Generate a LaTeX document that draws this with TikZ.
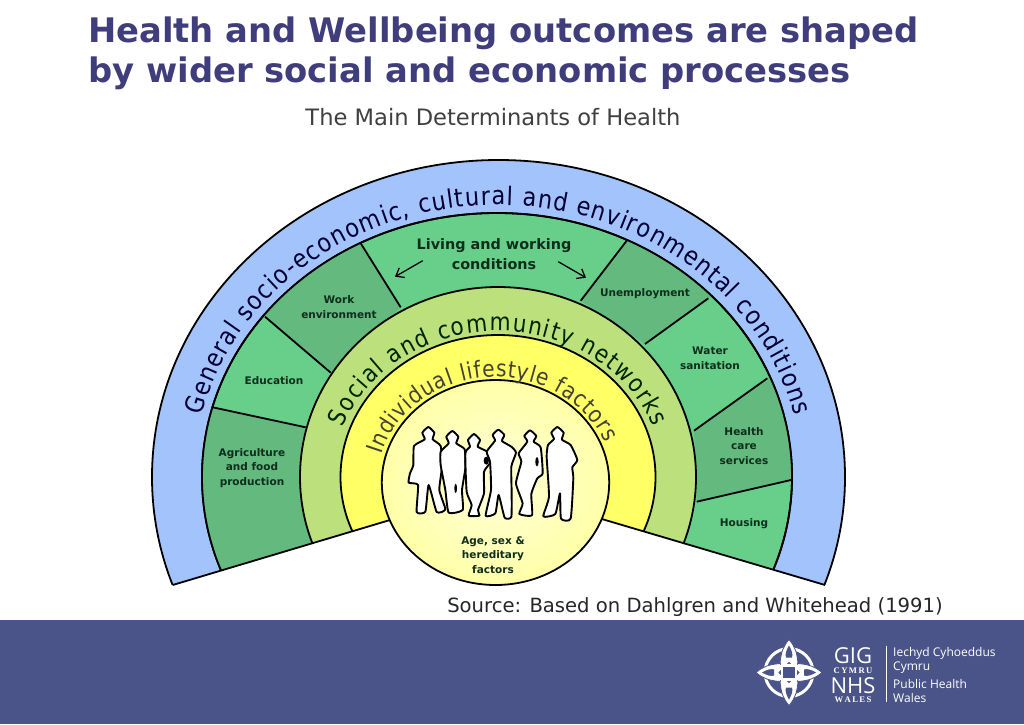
\documentclass[tikz,border=0pt]{standalone}
\usepackage{fontspec}
\setmainfont{DejaVu Sans}
\newfontfamily\logofont{Open Sans}
\newfontfamily\logoserif{Liberation Serif}
\newfontfamily\ringfont[FakeStretch=0.88]{DejaVu Sans}
\usetikzlibrary{decorations.text,arrows.meta,calc,shadings}
\definecolor{titlecol}{HTML}{3F3D7C}
\definecolor{bandcol}{HTML}{4A5488}
\definecolor{bluering}{HTML}{A3C3FC}
\definecolor{greenlight}{HTML}{68CF8B}
\definecolor{greendark}{HTML}{64B97F}
\definecolor{limering}{HTML}{BCE17C}
\definecolor{yellowring}{HTML}{FFFF66}
\definecolor{labelcol}{HTML}{0E2E1C}
\definecolor{discin}{HTML}{FFFFD8}
\definecolor{discout}{HTML}{FFFFA8}
\newcommand{\lblfont}{\fontsize{10.5}{14.6}\selectfont\bfseries\color{labelcol}}
\newcommand{\ringa}{\ringfont\fontsize{25.5}{26}\selectfont\color{black!80!blue}}
\newcommand{\ringb}{\ringfont\fontsize{24.5}{26}\selectfont\color{black!85!green}}
\newcommand{\ringc}{\ringfont\fontsize{23}{26}\selectfont\color{black!85!yellow}}
\tikzset{
  edge/.style={draw=black,line width=1.8pt},
  seglabel/.style={font=\lblfont,align=center,inner sep=0pt},
  titleline/.style={font=\fontsize{33.8}{36}\selectfont\bfseries\color{titlecol},anchor=base west,inner sep=0pt},
  person/.style={draw=black,line width=1.9pt,fill=white,line join=round},
  logotext/.style={font=\logofont\fontsize{12}{14}\selectfont\color{white},anchor=base west,inner sep=0pt},
  logobig/.style={font=\logofont\fontsize{22}{22}\selectfont\color{white},anchor=base,inner sep=0pt},
  logosmall/.style={font=\logoserif\fontsize{8.6}{9}\selectfont\bfseries\color{white},anchor=base,inner sep=0pt},
  barb/.style={line width=1.3pt,-{Straight Barb[length=7pt,width=11pt]}},
}
\begin{document}
\begin{tikzpicture}[x=1pt,y=1pt]
\useasboundingbox (0,-724) rectangle (1024,0);
\fill[white] (0,-724) rectangle (1024,0);
\fill[bandcol] (0,-724) rectangle (1024,-620);

\node[titleline] (title1) at (88,-42) {Health and Wellbeing outcomes are shaped};
\node[titleline] (title2) at (88,-82) {by wider social and economic processes};
\node[font=\fontsize{22.6}{24}\selectfont\color{black!75},anchor=base,inner sep=0pt] (maintitle) at (493,-125) {The Main Determinants of Health};
\node[font=\fontsize{19.6}{22}\selectfont\color{black!85},anchor=base,inner sep=0pt] (source) at (695,-612) {Source: Based on Dahlgren and Whitehead (1991)};

% divider end points
\coordinate (d1o) at (212.7,-407.3); \coordinate (d1i) at (305.7,-427.3);
\coordinate (d2o) at (265,-316.7);   \coordinate (d2i) at (330.7,-372.7);
\coordinate (d3o) at (360.7,-243.3); \coordinate (d3i) at (400.7,-307.3);
\coordinate (d4o) at (626.7,-240.7); \coordinate (d4i) at (580.7,-300.7);
\coordinate (d5o) at (708.3,-298.3); \coordinate (d5i) at (645,-344);
\coordinate (d6o) at (767.3,-378.3); \coordinate (d6i) at (694,-430.7);
\coordinate (d7o) at (791,-480);     \coordinate (d7i) at (696.7,-501.7);
\coordinate (apex) at (497,-488);
\coordinate (wl) at (172.7,-585);
\coordinate (wr) at (825,-585);

\begin{scope}
  \clip (apex) -- (100,-606.7) -- (100,-100) -- (900,-100) -- (900,-607) -- cycle;
  \path[fill=bluering,edge] (498.5,-477) ellipse [x radius=346.5pt,y radius=317pt];
  \path[fill=greenlight,edge] (497,-477) ellipse [x radius=295pt,y radius=264pt];
  \begin{scope}
    \clip (497,-477) ellipse [x radius=295pt,y radius=264pt];
    \fill[greendark] ($(d1i)!1.3!(d1o)$) -- (d1i) -- (apex) -- (100,-620) -- cycle;
    \fill[greendark] ($(d2i)!1.4!(d2o)$) -- (d2i) -- (d3i) -- ($(d3i)!1.4!(d3o)$) -- cycle;
    \fill[greendark] ($(d4i)!1.4!(d4o)$) -- (d4i) -- (d5i) -- ($(d5i)!1.4!(d5o)$) -- cycle;
    \fill[greendark] ($(d6i)!1.4!(d6o)$) -- (d6i) -- (d7i) -- ($(d7i)!1.4!(d7o)$) -- cycle;
  \end{scope}
  \draw[edge] (497,-477) ellipse [x radius=295pt,y radius=264pt];
  \draw[edge] (d1o) -- (d1i);
  \draw[edge] (d2o) -- (d2i);
  \draw[edge] (d3o) -- (d3i);
  \draw[edge] (d4o) -- (d4i);
  \draw[edge] (d5o) -- (d5i);
  \draw[edge] (d6o) -- (d6i);
  \draw[edge] (d7o) -- (d7i);
  \path[fill=limering,edge] (498,-477) ellipse [x radius=198pt,y radius=190pt];
  \path[fill=yellowring,edge] (498,-477) ellipse [x radius=157.5pt,y radius=142pt];
\end{scope}
\draw[edge] (wl) -- (apex) -- (wr);

% centre disc
\path[edge,inner color=discin,outer color=discout] (495.5,-482.5) ellipse [x radius=113.7pt,y radius=102.5pt];

% curved texts
\path[decorate,decoration={text along path,text align={fit to path},
  text={|\ringa|General socio-economic, cultural and environmental conditions}}]
  (498,-477) ++(167:304pt and 272pt) arc [start angle=167,end angle=13,x radius=304pt,y radius=272pt];
\path[decorate,decoration={text along path,text align={fit to path},
  text={|\ringb|Social and community networks}}]
  (498,-477) ++(160:165pt and 146pt) arc [start angle=160,end angle=20,x radius=165pt,y radius=146pt];
\path[decorate,decoration={text along path,text align={fit to path},
  text={|\ringc|Individual lifestyle factors}}]
  (495.5,-482) ++(165:118pt and 105pt) arc [start angle=165,end angle=22,x radius=118pt,y radius=105pt];

% segment labels
\node[seglabel] (agri) at (252,-468) {Agriculture\\and food\\production};
\node[seglabel] (educ) at (274,-381) {Education};
\node[seglabel] (work) at (339,-307) {Work\\environment};
\node[seglabel,font=\fontsize{14.4}{19.5}\selectfont\bfseries\color{labelcol}] (living) at (494,-254) {Living and working\\conditions};
\node[seglabel] (unemp) at (645,-294) {Unemployment};
\node[seglabel] (water) at (710,-358) {Water\\sanitation};
\node[seglabel] (hcare) at (744,-446) {Health\\care\\services};
\node[seglabel] (housing) at (744,-524) {Housing};
\node[seglabel] (age) at (493,-555) {Age, sex \&\\hereditary\\factors};

\coordinate (al1) at (422.7,-260.7); \coordinate (al2) at (395,-276.7);
\coordinate (ar1) at (558.3,-261.7); \coordinate (ar2) at (586,-277.7);
\draw[barb] (al1) -- (al2);
\draw[barb] (ar1) -- (ar2);

% people
\begin{scope}[shift={(390,-390)},x=0.3333pt,y=-0.3333pt]
  \draw[person] plot[smooth cycle,tension=.3] coordinates {(104,148)(97,128)(115,111)(133,128)(128,148)(152,168)(156,230)(148,300)(166,358)(140,366)(116,285)(106,365)(80,366)(84,285)(56,278)(60,250)(70,225)(72,168)};
  \draw[person] plot[smooth cycle,tension=.3] coordinates {(176,160)(169,140)(187,123)(205,140)(199,160)(224,178)(226,235)(216,300)(218,360)(176,368)(166,300)(152,225)(152,185)};
  \draw[person] plot[smooth cycle,tension=.3] coordinates {(240,170)(234,150)(252,132)(270,150)(263,170)(294,186)(305,212)(282,245)(282,310)(264,360)(268,377)(236,377)(245,345)(230,305)(226,190)};
  \draw[person] plot[smooth cycle,tension=.3] coordinates {(315,152)(308,135)(325,119)(343,135)(336,153)(364,170)(378,188)(364,230)(365,310)(364,381)(344,383)(326,315)(316,370)(287,377)(303,300)(300,215)(290,185)};
  \draw[person] plot[smooth cycle,tension=.3] coordinates {(412,155)(403,138)(420,121)(439,138)(431,155)(452,172)(458,250)(442,265)(424,312)(426,376)(388,372)(398,340)(378,280)(394,215)(386,190)};
  \draw[person] plot[smooth cycle,tension=.3] coordinates {(492,147)(484,128)(502,111)(521,128)(516,149)(542,165)(562,210)(547,232)(550,265)(542,386)(513,386)(510,310)(496,372)(460,379)(477,320)(470,200)(474,165)};
  \fill[black] (289,212) ellipse [x radius=8,y radius=12];
  \fill[black] (441,215) ellipse [x radius=5,y radius=14];
  \fill[black] (197,295) ellipse [x radius=4,y radius=14];
\end{scope}

% logo
\begin{scope}[shift={(789,-672.5)}]
  \draw[white,line width=3pt] (0,0) circle [radius=24pt];
  \foreach \a in {0,90,180,270}{
    \begin{scope}[rotate=\a]
      \path[fill=white,draw=bandcol,line width=.8pt] (-9,9) .. controls (-8,20) and (-6,26) .. (0,33) .. controls (6,26) and (8,20) .. (9,9) -- (5,5) -- (0,10) -- (-5,5) -- cycle;
      \path[fill=bandcol] (0,27) .. controls (-3,22) and (-4,18) .. (-3,15) -- (3,15) .. controls (4,18) and (3,22) .. (0,27) -- cycle;
    \end{scope}
  }
  \draw[white,line width=2.4pt] (-7,-7) rectangle (7,7);
\end{scope}
\node[logobig] (gig) at (853,-663) {GIG};
\node[logosmall] (cymru) at (853,-673) {C\,Y\,M\,R\,U};
\node[logobig] (nhs) at (853,-693) {NHS};
\node[logosmall] (wales) at (853,-702.5) {W\,A\,L\,E\,S};
\coordinate (vt) at (886,-646); \coordinate (vb) at (886,-702);
\draw[white,line width=.8pt] (vt) -- (vb);
\node[logotext] (iechyd) at (893,-656) {Iechyd Cyhoeddus};
\node[logotext] (cym2) at (893,-670) {Cymru};
\node[logotext] (ph) at (893,-688) {Public Health};
\node[logotext] (wal2) at (893,-702) {Wales};
\end{tikzpicture}
\end{document}
